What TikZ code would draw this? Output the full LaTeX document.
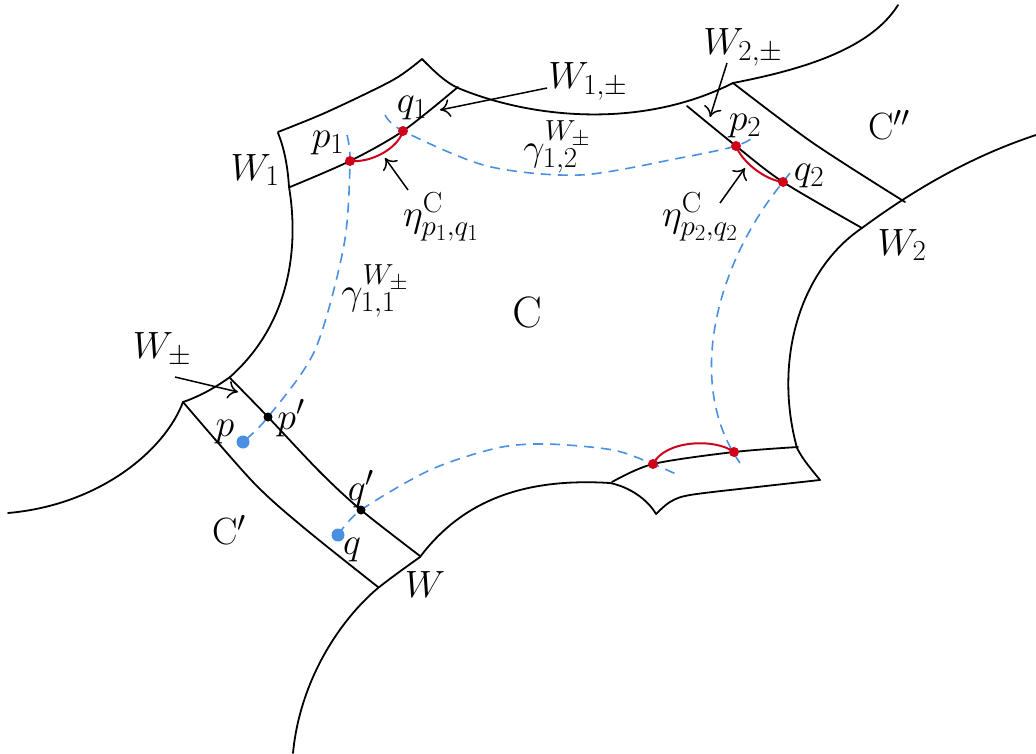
\RequirePackage{fix-cm}
\documentclass[tikz,border=0pt]{standalone}
\usetikzlibrary{arrows.meta}
\DeclareMathSizes{38}{38}{29}{23}
\DeclareMathSizes{44}{44}{32}{25}
\definecolor{gblue}{RGB}{74,144,226}
\definecolor{gred}{RGB}{208,2,27}
\tikzset{
 edge/.style={line width=1.8pt, line join=round, line cap=round},
 geo/.style={gblue, line width=1.6pt, dash pattern=on 10pt off 7pt},
 redarc/.style={gred, line width=2pt},
 lab/.style={font=\fontsize{38}{46}\selectfont, inner sep=0pt},
 biglab/.style={font=\fontsize{44}{52}\selectfont, inner sep=0pt},
 ptr/.style={line width=1.5pt, -{To[length=10pt,width=18pt]}},
 rdot/.style={circle, fill=gred, inner sep=0pt, minimum size=10pt},
 kdot/.style={circle, fill=black, inner sep=0pt, minimum size=9pt},
 bdot/.style={circle, fill=gblue, inner sep=0pt, minimum size=13pt},
}
\begin{document}
\begin{tikzpicture}[x=1pt,y=-1pt]
\useasboundingbox (0,0) rectangle (1036,753);
% key points
\coordinate (P1) at (350,161);
\coordinate (Q1) at (403,131);
\coordinate (P2) at (736,146);
\coordinate (Q2) at (783,182);
\coordinate (R1) at (653,464);
\coordinate (R2) at (734,452);
\coordinate (Pp) at (268,417);
\coordinate (Qp) at (361,510);
\coordinate (P) at (243,442);
\coordinate (Q) at (338,535);
% ---------- black boundaries ----------
% left boundary of C
\draw[edge] (278,133) .. controls (285,150) and (288,170) .. (289,187)
  .. controls (298,240) and (294,320) .. (230,377)
  .. controls (215,388) and (198,397) .. (183,402);
% C' upper boundary
\draw[edge] (8,513) .. controls (100,505) and (165,450) .. (183,402);
% W strip
\draw[edge] plot[smooth] coordinates {(183,402) (253,482) (303,527) (378,587)};
\draw[edge] plot[smooth] coordinates {(230,378) (268,417) (320,472) (361,510) (420,556)};
% big bottom curve
\draw[edge] (293,753) .. controls (300,680) and (340,620) .. (378,588)
  .. controls (392,577) and (406,567) .. (420,557)
  .. controls (465,497) and (530,478) .. (610,483)
  .. controls (630,487) and (648,500) .. (656,514);
% bottom-right strip
\draw[edge] plot[smooth] coordinates {(612,482) (653,464) (734,452) (798,447)};
\draw[edge] plot[smooth] coordinates {(656,514) (670,502) (690,495) (757,487) (820,480)};
\draw[edge] (797,448) .. controls (803,460) and (812,470) .. (820,480);
% right boundary
\draw[edge] (797,448) .. controls (773,360) and (800,270) .. (862,228)
  .. controls (900,200) and (960,160) .. (1036,135);
% W2 strip
\draw[edge] plot[smooth] coordinates {(687,106) (736,146) (783,182) (862,228)};
\draw[edge] plot[smooth] coordinates {(733,83) (813,143) (905,202)};
% top boundary
\draw[edge] (422,59) .. controls (435,72) and (445,82) .. (458,88)
  .. controls (530,118) and (640,130) .. (733,83);
\draw[edge] (733,83) .. controls (800,70) and (870,50) .. (898,5);
% W1 strip
\draw[edge] plot[smooth] coordinates {(278,132) (327,112) (393,80) (422,59)};
\draw[edge] plot[smooth] coordinates {(290,187) (350,161) (403,131) (458,87)};
% ---------- geodesics ----------
\draw[geo] plot[smooth] coordinates {(347,135) (350,162) (344,245) (315,350) (268,417) (243,442)};
\draw[geo] plot[smooth] coordinates {(385,115) (403,131) (487,166) (580,175) (680,158) (736,146) (757,135)};
\draw[geo] (790,173) -- (783,182) .. controls (715,265) and (685,385) .. (740,463);
\draw[geo] plot[smooth] coordinates {(338,535) (361,510) (430,470) (497,448) (547,444) (613,450) (653,464) (678,475)};
% ---------- red arcs ----------
\draw[redarc] (P1) .. controls (372,163) and (398,148) .. (Q1);
\draw[redarc] (P2) .. controls (742,162) and (765,180) .. (Q2);
\draw[redarc] (R1) .. controls (665,440) and (715,438) .. (R2);
% ---------- dots ----------
\node[rdot] (dP1) at (P1) {};
\node[rdot] (dQ1) at (Q1) {};
\node[rdot] (dP2) at (P2) {};
\node[rdot] (dQ2) at (Q2) {};
\node[rdot] (dR1) at (R1) {};
\node[rdot] (dR2) at (R2) {};
\node[kdot] (dPp) at (Pp) {};
\node[kdot] (dQp) at (Qp) {};
\node[bdot] (dP) at (P) {};
\node[bdot] (dQ) at (Q) {};
% ---------- labels ----------
\node[lab] (lW1) at (255,170) {$W_1$};
\node[lab] (lp1) at (328,143) {$p_1$};
\node[lab] (lq1) at (412,108) {$q_1$};
\node[lab] (leta1) at (441,217) {$\eta^{\mathrm{C}}_{p_1,q_1}$};
\node[lab] (lW1pm) at (588,81) {$W_{1,\pm}$};
\node[lab] (lg12) at (557,147) {$\gamma^{W_\pm}_{1,2}$};
\node[lab] (lW2pm) at (743,47) {$W_{2,\pm}$};
\node[lab] (lp2) at (745,126) {$p_2$};
\node[lab] (lq2) at (809,176) {$q_2$};
\node[lab] (lCpp) at (889,125) {$\mathrm{C}''$};
\node[lab] (lW2) at (902,245) {$W_2$};
\node[lab] (leta2) at (700,217) {$\eta^{\mathrm{C}}_{p_2,q_2}$};
\node[lab] (lg11) at (375,291) {$\gamma^{W_\pm}_{1,1}$};
\node[biglab] (lC) at (527,312) {$\mathrm{C}$};
\node[lab] (lWpm) at (162,350) {$W_\pm$};
\node[lab] (lp) at (225,432) {$p$};
\node[lab] (lpp) at (291,418) {$p'$};
\node[lab] (lqp) at (361,489) {$q'$};
\node[lab] (lq) at (352,550) {$q$};
\node[lab] (lCp) at (229,530) {$\mathrm{C}'$};
\node[lab] (lW) at (425,585) {$W$};
% ---------- pointers ----------
\coordinate (a1s) at (547,88);  \coordinate (a1e) at (440,110);
\coordinate (a2s) at (727,63);  \coordinate (a2e) at (710,117);
\coordinate (a3s) at (408,190); \coordinate (a3e) at (385,158);
\coordinate (a4s) at (720,203); \coordinate (a4e) at (745,168);
\coordinate (a5s) at (175,377); \coordinate (a5e) at (238,392);
\draw[ptr] (a1s) -- (a1e);
\draw[ptr] (a2s) -- (a2e);
\draw[ptr] (a3s) -- (a3e);
\draw[ptr] (a4s) -- (a4e);
\draw[ptr] (a5s) -- (a5e);
\end{tikzpicture}
\end{document}
